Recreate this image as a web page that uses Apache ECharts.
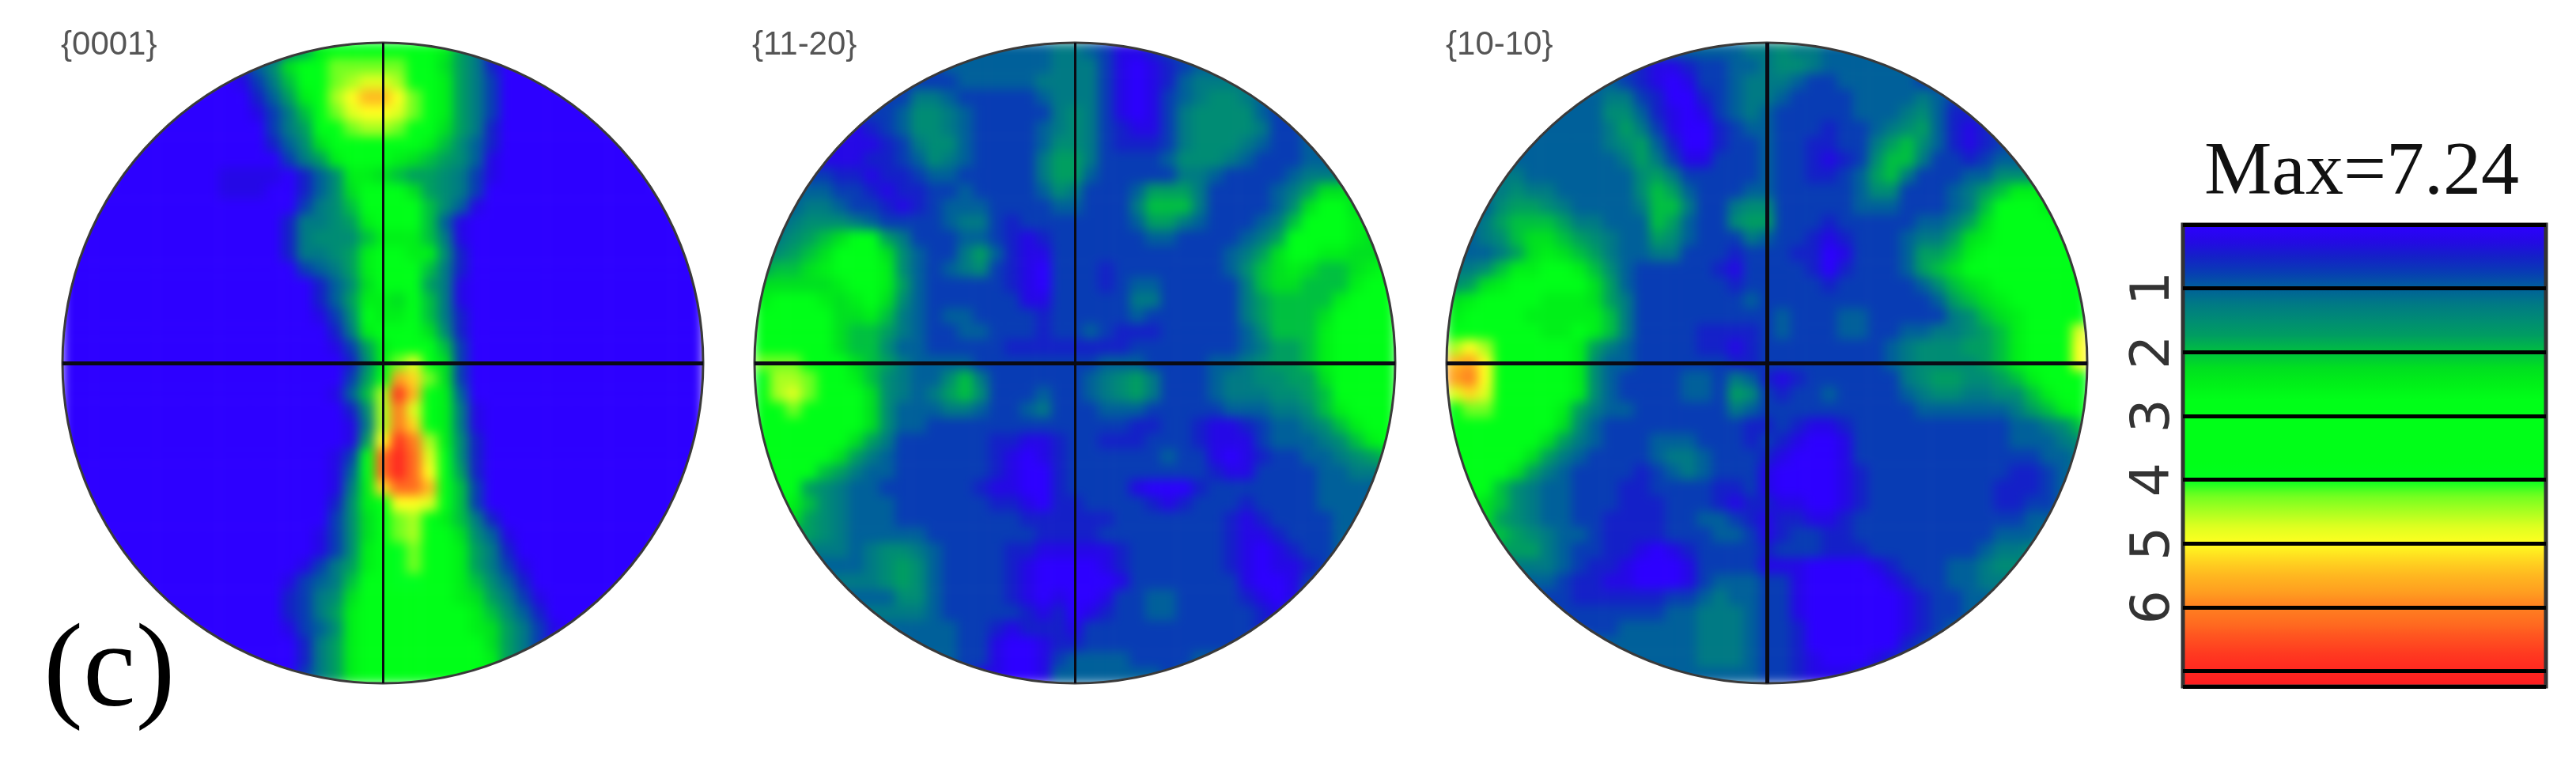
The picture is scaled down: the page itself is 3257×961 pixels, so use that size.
<!DOCTYPE html>
<html>
<head>
<meta charset="utf-8">
<title>Pole figures</title>
<script src="https://cdn.jsdelivr.net/npm/echarts@6/dist/echarts.min.js"></script>
<style>
html, body { margin: 0; padding: 0; background: #fff; }
#wrap { position: relative; width: 3257px; height: 961px; overflow: hidden; }
#heat, #chart { position: absolute; left: 0; top: 0; width: 3257px; height: 961px; }
/* the source figure is a smoothed bitmap, so the cells are softened here */
#heat { filter: blur(7px); }
</style>
</head>
<body>
<div id="wrap">
<div id="heat"></div>
<div id="chart"></div>
</div>
<script>
// intensity, one string per row (top first), one char per cell
// char i of levelCodes means i * maxIntensity / 29, spaces are only there to count columns
var levelCodes = '0123456789abcdefghijklmnopqrst';
var maxIntensity = 7.24;
var barTicks = [1, 2, 3, 4, 5, 6];
var figureNames = ['{0001}', '{11-20}', '{10-10}'];

var rows0001 = [
'0000000000 000057abbb bbbba75000 0000000000 0',
'0000000000 02469bbhhh hhbb975200 0000000000 0',
'0000000000 01358bbhij jibba75300 0000000000 0',
'0000000000 00247acikm mkhba75300 0000000000 0',
'0000000000 001358bhjk kjhba75300 0000000000 0',
'0000000000 000357bchi ihbb975200 0000000000 0',
'0000000000 0002469bbb bbba864200 0000000000 0',
'0000000000 0000357abb ba98764100 0000000000 0',
'0000000000 11110246aa 9877653100 0000000000 0',
'0000000000 111002469b bb97653000 0000000000 0',
'0000000000 000003568b bbb8641000 0000000000 0',
'0000000000 000025567a bbb8410000 0000000000 0',
'0000000000 0000256668 aaa8510000 0000000000 0',
'0000000000 000025567a bbaa620000 0000000000 0',
'0000000000 000003457a bbb8520000 0000000000 0',
'0000000000 0000002469 bbb7510000 0000000000 0',
'0000000000 000000247a a9b8510000 0000000000 0',
'0000000000 000000136b aab8520000 0000000000 0',
'0000000000 000000025a bbb9620000 0000000000 0',
'0000000000 0000000137 abbb830000 0000000000 0',
'0000000000 0000000026 ahjc930000 0000000000 0',
'0000000000 0000000037 cnlh930000 0000000000 0',
'0000000000 0000000148 irmca40000 0000000000 0',
'0000000000 0000000026 iojba51000 0000000000 0',
'0000000000 0000000015 iolca51000 0000000000 0',
'0000000000 0000000017 kroia62000 0000000000 0',
'0000000000 000000013c pspjb62000 0000000000 0',
'0000000000 000000014c pspkb72000 0000000000 0',
'0000000000 000000015a lppmc83000 0000000000 0',
'0000000000 000000026a dkkjc83000 0000000000 0',
'0000000000 0000000369 bhica85200 0000000000 0',
'0000000000 0000001369 bhicb96410 0000000000 0',
'0000000000 000000136a bghcba7520 0000000000 0',
'0000000000 000001357a bghbba7531 0000000000 0',
'0000000000 000013458b bggbba8642 0000000000 0',
'0000000000 000023569b bbbbba9753 1000000000 0',
'0000000000 00002357ab bbbbbba864 2000000000 0',
'0000000000 00001346ab bbbbbba975 3100000000 0',
'0000000000 00000257ab bbbbbbb975 3000000000 0',
'0000000000 00000257ab bbbbbbba75 3000000000 0',
'0000000000 00000357ab bbbbbbba75 3000000000 0'
];

var rows1120 = [
'4444444444 4444444445 5431123444 4444444444 4',
'4444444444 3344444445 5531012344 4444444444 4',
'3333333333 3334444455 5531012455 5544444444 4',
'3333333333 5543333345 5531013456 6543344444 4',
'3333333334 6654333335 6531013566 6643344444 4',
'1111111234 6654333345 6532113566 6653344444 4',
'1111111123 5664333346 6532223566 6543344444 4',
'1111111223 4654333357 7533334666 5433344444 4',
'3333322122 3443333357 7433333554 3333455555 5',
'4444433212 2334333346 5333477753 3334579999 9',
'4445543321 2344433334 4333588853 333469bb99 9',
'4456665433 3345532333 3333477543 33458bbbaa a',
'556789bb75 3334432123 3333344333 3457bbbba9 9',
'66789bbb96 4335742113 3333333333 4579bbaa99 9',
'7889abbba6 4345632103 3323333333 4689a9889a b',
'99999abba7 4333332103 3323443333 35899888ab b',
'abbba9ab96 4333333113 3333553333 3578888abb b',
'bbbbb99a85 4344333323 3333433333 3578889bbb b',
'bbbbb98875 4334433323 3432223333 346888abbb b',
'bbbbb98864 4333332222 2222333333 345778abbb b',
'hhhcbb9875 4444333333 3344433334 456778abbb b',
'giihbba865 4468533333 3456753334 5566779bbb b',
'bijhbbb965 4578633343 3456753334 5556678bbb b',
'bdhebbb964 4455433453 3344433333 4445568abb b',
'bbbbbbb964 4333333333 3333223321 12344568ab b',
'bbbbbb9753 3333322112 3322233321 113444568a b',
'bbbbb97543 3333321012 3333334331 0123344567 8',
'bbbb875443 3333321002 3333333332 1133334455 5',
'bbb7654433 3333211002 3333100023 3333334444 4',
'bba8654443 3333322102 2333321233 3233334444 4',
'aa97654443 3333333222 2223333333 2123333444 4',
'7777654444 4333333322 2233333333 2112333444 4',
'5555554566 5433332211 1112333333 2101233444 4',
'4444444567 6433332100 0012333333 2101123444 4',
'5555555567 6433332100 0001333333 3100134444 4',
'4444444446 6433332101 0013344333 3210144444 4',
'5555555555 5433333212 0123344333 3321444444 4',
'4444444444 4443321222 1333333333 3321444444 4',
'4444444444 4443310012 2333333333 3344444444 4',
'4444444444 4443310013 4444333344 4444444444 4',
'4444444444 4443110014 4444443444 4444444444 4'
];

var rows1010 = [
'4444444444 4444444445 5655444444 4444444444 4',
'4444444444 3321123344 5665444444 4444444444 4',
'4444444444 4321013345 5543344444 3344444444 4',
'4444444444 5532002345 5433334444 5433444444 4',
'4444444444 6642101345 4333334445 6422344444 4',
'4444444444 5753100234 4333233456 7421234444 4',
'4444444444 5674200233 4332233578 6421234444 4',
'4444444444 4575311333 4332123688 5332344444 4',
'5555544444 4467533333 4332234785 3334466666 6',
'5555655444 4468743334 4333334663 334578aaaa a',
'4446776544 4458853356 6333334443 33458bbbaa a',
'4457888755 4448743367 7333233333 44579bbbba a',
'4456899876 5447643335 4332123334 5579abbbbb b',
'444579a987 5445533323 3322013334 778abbbbbb b',
'5568aabba8 6433333213 3332023334 789bbbbbbb b',
'679abbbbb9 7433333323 3333233333 4689abbbbb b',
'9abbbbaaa9 7533333334 3333333333 34789abbbb b',
'abbbbaaaaa 8533333333 3433344333 335689abbb b',
'cbbbbbaaba 8533332222 3433344334 455678abbb j',
'ikicbbbba7 5433332212 3333333345 666778abbc k',
'mnkdbbbba6 4433333322 3333333345 666678abbc k',
'nokdbbbba6 4333344354 2123333335 6776678abb b',
'jljcbbbba6 4333344376 3233433334 56655668ab b',
'bhhbbbba75 4433333354 3333333333 444444578a b',
'bbbbbbb964 3333333332 2321123333 3333334456 8',
'bbbbbb9754 3334443332 3210013333 3333334445 6',
'bbbbb97543 3334554333 2100013333 3333333344 5',
'bbbb975433 3323454333 1000012333 3333332234 5',
'bbb8654433 3223333223 1000012333 3333322234 5',
'bb98654433 3222333212 2110012333 3333322334 5',
'a997654433 2222334432 1221123333 3333333444 5',
'8888765443 2222333443 1233223333 3333344455 5',
'7777775433 2210123333 2333222333 3333455666 6',
'5555555432 2100013333 1110000123 3344566666 6',
'4444444322 1100013444 3310000012 3344555555 5',
'3333333322 2222334544 3310000001 2334455555 5',
'3333333333 3333445554 3310000001 2334444444 4',
'3333333333 3444445554 3320000001 2344444444 4',
'4444444444 4444445554 3320000002 3444444444 4',
'4444444444 4444445554 3321000123 4444444444 4',
'4444444444 4444444444 3321112344 4444444444 4'
];

// one colour per level code
var levelColors = [
    '#2d00ff', '#2508e6', '#1420c8', '#083cb4', '#00609a', '#007a84', '#008c74', '#009e60',
    '#00c040', '#00e020', '#00f018', '#00ff18', '#00ff18', '#00ff18', '#00ff18', '#00ff18',
    '#00ff20', '#70ff20', '#a8ff20', '#e0ff20', '#ffff20', '#ffd820', '#ffb820', '#ffa020',
    '#ff8020', '#ff6c20', '#ff5020', '#ff3820', '#ff2820', '#ff1c20'
];

var R = 405;
var centerX = [484, 1359, 2234];
var centerY = 459;
var N = 41;
var mid = 20;
var allRows = [rows0001, rows1120, rows1010];
var lineWidths = [[3, 5], [3, 5], [5, 5]];

var cellNames = [];
for (var n = 0; n < N; n++) cellNames.push(String(n));

function cells(rows) {
    var out = [];
    rows.forEach(function (row, y) {
        row.replace(/ /g, '').split('').forEach(function (ch, x) {
            // corners of the square are never drawn, the ring hides the rest
            if (Math.hypot(x - mid, y - mid) > 21.6) return;
            out.push([x, y, levelCodes.indexOf(ch) * maxIntensity / 29]);
        });
    });
    return out;
}

function squareGrid(i) {
    return { left: centerX[i] - R, top: centerY - R, width: 2 * R, height: 2 * R };
}
function categoryAxis(i, inverse) {
    return { type: 'category', gridIndex: i, data: cellNames, show: false, inverse: inverse };
}

// bottom layer, the softened maps
var heatChart = echarts.init(document.getElementById('heat'));
heatChart.setOption({
    animation: false,
    backgroundColor: '#fff',
    grid: allRows.map(function (r, i) { return squareGrid(i); }),
    xAxis: allRows.map(function (r, i) { return categoryAxis(i, false); }),
    yAxis: allRows.map(function (r, i) { return categoryAxis(i, true); }),
    visualMap: {
        show: false,
        type: 'continuous',
        seriesIndex: [0, 1, 2],
        dimension: 2,
        min: 0,
        max: maxIntensity,
        inRange: { color: levelColors }
    },
    series: allRows.map(function (rows, i) {
        return { type: 'heatmap', name: figureNames[i], xAxisIndex: i, yAxisIndex: i, data: cells(rows) };
    })
});

// top layer, sharp: ring masks, crosses, colour bar and texts
var grids = [], xAxes = [], yAxes = [], series = [], graphics = [];
allRows.forEach(function (rows, i) {
    grids.push(squareGrid(i));
    xAxes.push(categoryAxis(i, false));
    yAxes.push(categoryAxis(i, true));
    series.push({
        type: 'line',
        xAxisIndex: i,
        yAxisIndex: i,
        data: [],
        markLine: {
            silent: true,
            symbol: 'none',
            animation: false,
            label: { show: false },
            data: [
                { xAxis: mid, lineStyle: { width: lineWidths[i][0], color: '#0a0a14', type: 'solid' } },
                { yAxis: mid, lineStyle: { width: lineWidths[i][1], color: '#0a0a14', type: 'solid' } }
            ]
        }
    });
    graphics.push({
        type: 'ring',
        silent: true,
        z: 0,
        shape: { cx: centerX[i], cy: centerY, r: R + 58, r0: R },
        style: { fill: '#fff' }
    });
    graphics.push({
        type: 'circle',
        silent: true,
        z: 1,
        shape: { cx: centerX[i], cy: centerY, r: R },
        style: { fill: 'none', stroke: '#3a3a3a', lineWidth: 3 }
    });
});

grids.push({
    left: 2760, top: 284, width: 459, height: 584, z: 10,
    show: true, backgroundColor: 'transparent', borderColor: '#333', borderWidth: 5
});
xAxes.push({ type: 'value', gridIndex: 3, show: false, min: 0, max: 1 });
yAxes.push({
    type: 'value',
    gridIndex: 3,
    inverse: true,
    min: 0,
    max: maxIntensity,
    interval: 1,
    z: 10,
    axisLine: { show: false },
    axisTick: { show: false },
    splitLine: { show: true, lineStyle: { color: '#000', width: 5 } },
    axisLabel: {
        rotate: 90,
        margin: 2,
        fontFamily: 'DejaVu Sans',
        fontSize: 68,
        color: '#333',
        formatter: function (v) { return barTicks.indexOf(v) >= 0 ? String(v) : ''; }
    }
});

function label(text, left, top, size, family, color) {
    return {
        text: text, left: left, top: top, padding: 0, z: 20,
        textStyle: { fontFamily: family, fontSize: size, fontWeight: 'normal', color: color }
    };
}

var chart = echarts.init(document.getElementById('chart'));
chart.setOption({
    animation: false,
    title: [
        label(figureNames[0], 77, 36, 42, 'Liberation Sans', '#555'),
        label(figureNames[1], 951, 36, 42, 'Liberation Sans', '#555'),
        label(figureNames[2], 1828, 36, 42, 'Liberation Sans', '#555'),
        label('Max=' + maxIntensity, 2787, 172, 96, 'Liberation Serif', '#111'),
        label('(c)', 55, 778, 150, 'Liberation Serif', '#000')
    ],
    grid: grids,
    xAxis: xAxes,
    yAxis: yAxes,
    visualMap: {
        type: 'continuous',
        seriesIndex: [],
        min: 0,
        max: maxIntensity,
        left: 2760,
        top: 284,
        padding: 0,
        itemWidth: 459,
        itemHeight: 584,
        inverse: true,
        calculable: false,
        hoverLink: false,
        showLabel: false,
        inRange: { color: levelColors }
    },
    series: series,
    graphic: graphics
});
</script>
</body>
</html>
